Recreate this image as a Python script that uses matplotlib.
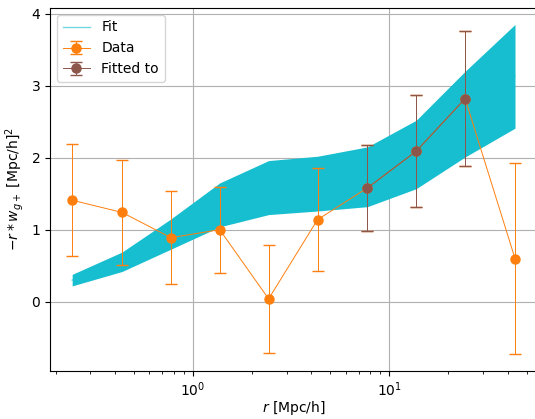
import numpy as np
import matplotlib
matplotlib.use("Agg")
import matplotlib.pyplot as plt

# radial bins [Mpc/h]
r = [0.243, 0.436, 0.773, 1.37, 2.43, 4.31, 7.73, 13.7, 24.3, 43.6]

# measured -r * w_g+ and its errors
data_y = [1.41, 1.24, 0.89, 1.00, 0.04, 1.14, 1.58, 2.09, 2.82, 0.60]
data_err = [0.78, 0.73, 0.65, 0.60, 0.75, 0.72, 0.60, 0.78, 0.94, 1.33]

# bins used in the fit
fit_idx = [6, 7, 8]

# model band
fit_lo = [0.22, 0.42, 0.73, 1.04, 1.21, 1.26, 1.32, 1.57, 2.01, 2.41]
fit_hi = [0.38, 0.69, 1.15, 1.65, 1.96, 2.02, 2.15, 2.52, 3.20, 3.85]

r = np.array(r)
data_y = np.array(data_y)
data_err = np.array(data_err)
fit_lo = np.array(fit_lo)
fit_hi = np.array(fit_hi)

fig = plt.figure(figsize=(5.35, 4.19), dpi=100)
ax = fig.add_subplot(111)

ax.plot(r, 0.5 * (fit_lo + fit_hi), color='C9', lw=1.0, alpha=0.6, label='Fit', zorder=1)
ax.fill_between(r, fit_lo, fit_hi, color='C9', lw=0, zorder=2)

ax.errorbar(r, data_y, yerr=data_err, fmt='o-', color='C1', lw=0.7, ms=6.5,
            capsize=4, label='Data', zorder=3)
ax.errorbar(r[fit_idx], data_y[fit_idx], yerr=data_err[fit_idx], fmt='o-', color='C5',
            lw=0.7, ms=6.5, capsize=4, label='Fitted to', zorder=4)

ax.set_xscale('log')
ax.grid(True, color='#b0b0b0', lw=0.8)
ax.set_axisbelow(True)
ax.set_xlabel(r'$r$ [Mpc/h]', labelpad=0)
ax.set_ylabel(r'$-r * w_{g+}$ [Mpc/h]$^2$')
ax.legend(loc='upper left')

fig.subplots_adjust(left=0.0935, right=1.004, bottom=0.115, top=0.981)
fig.savefig('out.png', dpi=100)
